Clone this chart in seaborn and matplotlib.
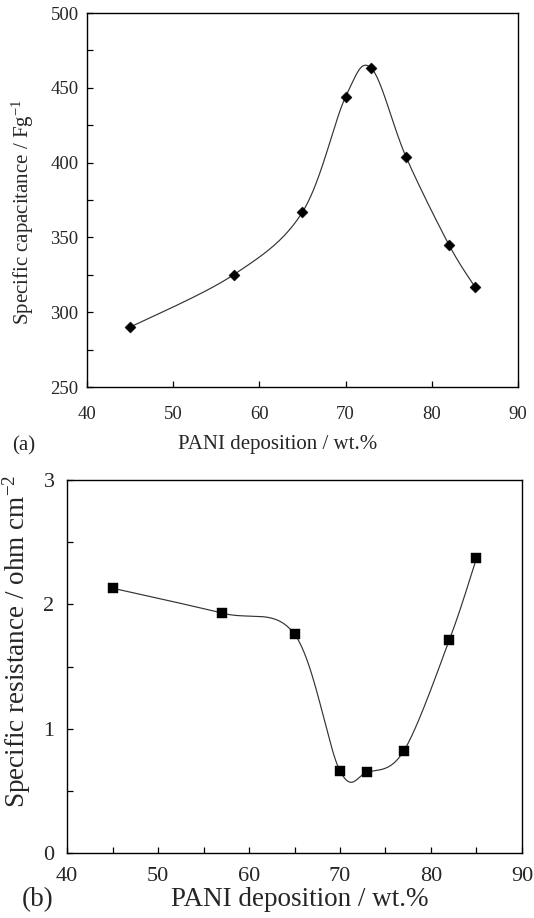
import numpy as np
import matplotlib
matplotlib.use("Agg")
import matplotlib.pyplot as plt
from matplotlib.ticker import MultipleLocator
import seaborn as sns

# --- DATA ---
pani_wt = [45, 57, 65, 70, 73, 77, 82, 85]
capacitance = [290, 325, 367, 444, 463, 404, 345, 317]       # F/g
resistance = [2.13, 1.93, 1.76, 0.66, 0.65, 0.82, 1.71, 2.37]  # ohm cm-2

x_ticks = [40, 50, 60, 70, 80, 90]
cap_ticks = [250, 300, 350, 400, 450, 500]
res_ticks = [0, 1, 2, 3]

sns.set_style("ticks")
plt.rcParams['font.family'] = ['Liberation Serif', 'DejaVu Serif']
plt.rcParams['mathtext.fontset'] = 'stix'


def smooth_line(xs, ys, n=40):
    # Excel-like "smoothed line": Bezier segments with Catmull-Rom control points
    p = np.column_stack([xs, ys]).astype(float)
    ext = np.vstack([p[0], p, p[-1]])
    out = []
    t = np.linspace(0, 1, n)[:, None]
    for i in range(len(p) - 1):
        p0, p1, p2, p3 = ext[i], ext[i + 1], ext[i + 2], ext[i + 3]
        c1 = p1 + (p2 - p0) / 6.0
        c2 = p2 - (p3 - p1) / 6.0
        seg = ((1 - t) ** 3) * p1 + 3 * ((1 - t) ** 2) * t * c1 + 3 * (1 - t) * t ** 2 * c2 + t ** 3 * p2
        out.append(seg if i == 0 else seg[1:])
    out = np.vstack(out)
    return out[:, 0], out[:, 1]


def style_axes(ax, tick_fs, xpad, ypad):
    for s in ax.spines.values():
        s.set_visible(True)
        s.set_color('black')
        s.set_linewidth(1.0)
    ax.tick_params(axis='both', which='both', direction='in', top=False, right=False,
                   labelsize=tick_fs, color='black', width=0.9, length=4)
    ax.tick_params(axis='x', which='major', pad=xpad)
    ax.tick_params(axis='y', which='major', pad=ypad)


fig = plt.figure(figsize=(5.34, 9.18), dpi=100)

# --- (a) specific capacitance ---
ax1 = fig.add_axes([0.1629, 0.5784, 0.8071, 0.4074])
sx, sy = smooth_line(pani_wt, capacitance)
sns.lineplot(x=sx, y=sy, sort=False, estimator=None, color='#333333', linewidth=0.85, ax=ax1)
sns.scatterplot(x=pani_wt, y=capacitance, marker='D', s=32, color='black', edgecolor='black',
                linewidth=0.3, ax=ax1, zorder=3)
ax1.set_xlim(40, 90)
ax1.set_ylim(250, 500)
ax1.set_xticks(x_ticks)
ax1.set_yticks(cap_ticks)
ax1.yaxis.set_minor_locator(MultipleLocator(25))
style_axes(ax1, 13.5, xpad=14, ypad=6)
ax1.set_xlabel("PANI deposition / wt.%", fontsize=15)
ax1.xaxis.set_label_coords(0.443, -0.128)
ax1.set_ylabel("Specific capacitance / Fg$^{\\mathregular{-1}}$", fontsize=15)
ax1.yaxis.set_label_coords(-0.118, 0.468)
fig.text(0.022, 0.514, "(a)", fontsize=15, ha='left', va='center')

# --- (b) specific resistance ---
ax2 = fig.add_axes([0.1255, 0.0708, 0.852, 0.4063])
rx, ry = smooth_line(pani_wt, resistance)
sns.lineplot(x=rx, y=ry, sort=False, estimator=None, color='#333333', linewidth=0.85, ax=ax2)
sns.scatterplot(x=pani_wt, y=resistance, marker='s', s=55, color='black', edgecolor='black',
                linewidth=0.3, ax=ax2, zorder=3)
ax2.set_xlim(40, 90)
ax2.set_ylim(0, 3)
ax2.set_xticks(x_ticks)
ax2.set_yticks(res_ticks)
ax2.xaxis.set_minor_locator(MultipleLocator(5))
ax2.yaxis.set_minor_locator(MultipleLocator(0.5))
style_axes(ax2, 16, xpad=10, ypad=9)
ax2.set_xlabel("PANI deposition / wt.%", fontsize=19.5)
ax2.xaxis.set_label_coords(0.512, -0.092)
ax2.set_ylabel("Specific resistance / ohm cm$^{\\mathregular{-2}}$", fontsize=19.5)
ax2.yaxis.set_label_coords(-0.075, 0.568)
fig.text(0.041, 0.02, "(b)", fontsize=19.5, ha='left', va='center')

fig.savefig("out.png", dpi=100)
